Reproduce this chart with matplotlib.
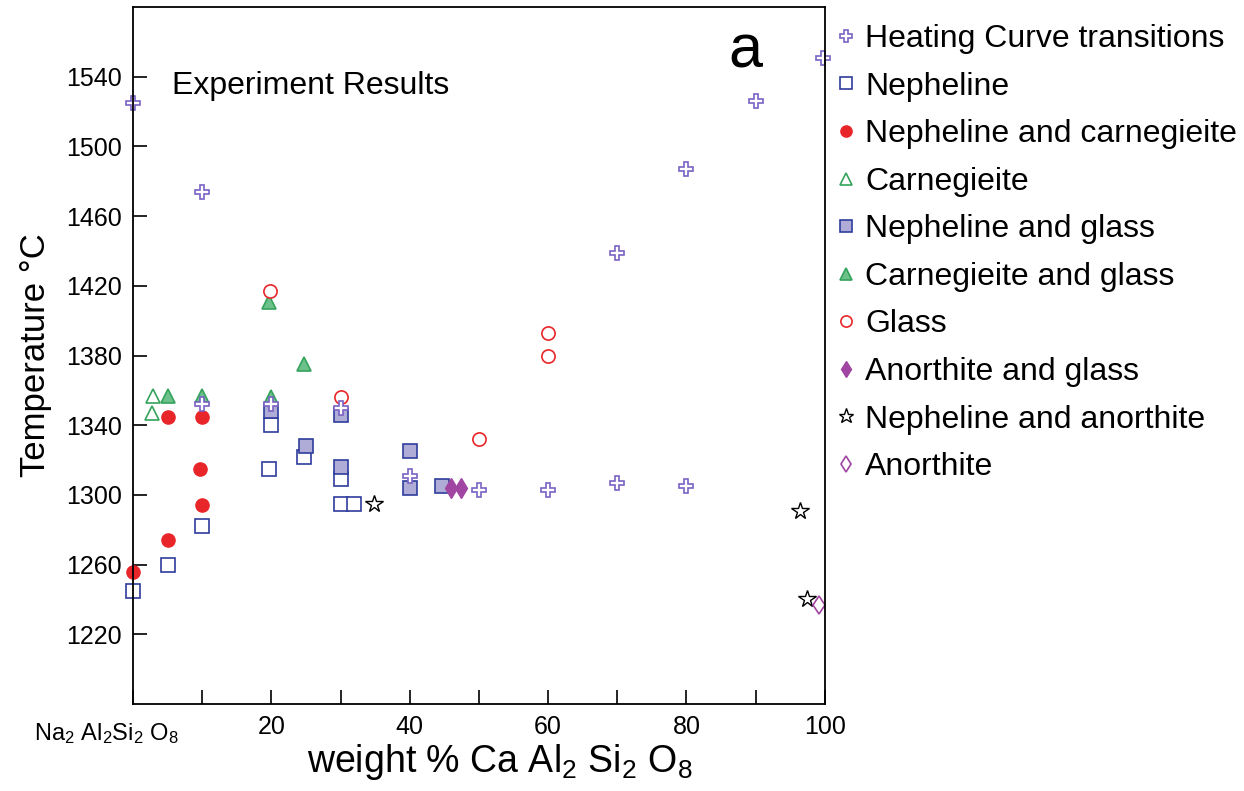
import numpy as np
import matplotlib
matplotlib.use('Agg')
import matplotlib.pyplot as plt

plt.rcParams['font.family'] = ['Liberation Sans', 'DejaVu Sans']
plt.rcParams['mathtext.fontset'] = 'custom'
plt.rcParams['mathtext.rm'] = 'Liberation Sans'
plt.rcParams['mathtext.it'] = 'Liberation Sans:italic'
plt.rcParams['mathtext.bf'] = 'Liberation Sans:bold'

# weight % CaAl2Si2O8 vs temperature (C)
heat_x = [0, 10, 10, 20, 30, 40, 50, 60, 70, 80, 70, 80, 90, 99.7]
heat_y = [1525, 1474, 1352, 1352, 1350, 1311, 1303, 1303, 1307, 1305, 1439, 1487, 1526, 1551]

neph_x = [0, 5, 10, 19.7, 20, 24.7, 30, 30, 32]
neph_y = [1245, 1260, 1282, 1315, 1340, 1322, 1309, 1295, 1295]

nc_x = [0, 5, 9.7, 10, 5, 10]
nc_y = [1256, 1274, 1315, 1294, 1345, 1345]

carn_x = [2.9, 2.8]
carn_y = [1357, 1347]

ng_x = [20, 25, 30, 30, 40, 40, 44.6]
ng_y = [1348, 1328, 1346, 1316, 1325, 1304, 1305]

cg_x = [5, 10, 19.7, 24.7, 20]
cg_y = [1357, 1357, 1411, 1375, 1356]

glass_x = [19.8, 30, 50, 60, 60]
glass_y = [1417, 1356, 1332, 1393, 1380]

ag_x = [46, 47.4]
ag_y = [1304, 1304]

na_x = [34.9, 96.4, 97.4]
na_y = [1295, 1291, 1240]

an_x = [99.1]
an_y = [1237]

fig = plt.figure(figsize=(12.44, 7.91), dpi=100)
ax = fig.add_axes([0.107, 0.110, 0.556, 0.881])

purple = '#7a62c4'
blue = '#2f3d9c'
red = '#e8262a'
green = '#34a35c'
lgreen = '#6cc08a'
mauve = '#a046a2'

kw = dict(ls='none', clip_on=False)
ax.plot(neph_x, neph_y, 's', ms=9.5, mfc='white', mec=blue, mew=1.2, label='Nepheline', **kw)
ax.plot(nc_x, nc_y, 'o', ms=9.5, mfc=red, mec=red, mew=1.0, label='Nepheline and carnegieite', **kw)
ax.plot(carn_x, carn_y, '^', ms=10.5, mfc='white', mec=green, mew=1.2, label='Carnegieite', **kw)
ax.plot(ng_x, ng_y, 's', ms=9.5, mfc='#b0acd8', mec=blue, mew=1.2, label='Nepheline and glass', **kw)
ax.plot(cg_x, cg_y, '^', ms=10.5, mfc=lgreen, mec=green, mew=1.2, label='Carnegieite and glass', **kw)
ax.plot(glass_x, glass_y, 'o', ms=9.5, mfc='white', mec=red, mew=1.2, label='Glass', **kw)
ax.plot(ag_x, ag_y, 'd', ms=10, mfc=mauve, mec=mauve, mew=1.0, label='Anorthite and glass', **kw)
ax.plot(na_x, na_y, '*', ms=13, mfc='white', mec='black', mew=1.0, label='Nepheline and anorthite', **kw)
ax.plot(an_x, an_y, 'd', ms=9.5, mfc='white', mec=mauve, mew=1.2, label='Anorthite', **kw)
ax.plot(heat_x, heat_y, 'P', ms=10, mfc='white', mec=purple, mew=1.2,
        label='Heating Curve transitions', **kw)

ax.set_xlim(0, 100)
ax.set_ylim(1180, 1580)

ax.set_xticks(np.arange(0, 101, 10))
ax.set_xticklabels(['', '', '20', '', '40', '', '60', '', '80', '', '100'])
ax.set_yticks(np.arange(1220, 1541, 40))
ax.tick_params(direction='in', length=10, width=1.2, labelsize=18, pad=8)
for s in ax.spines.values():
    s.set_linewidth(1.3)

ax.text(-3.8, -0.025, r'Na$_2$ Al$_2$Si$_2$ O$_8$', transform=ax.get_xaxis_transform(),
        ha='center', va='top', fontsize=17)

ax.set_xlabel(r'weight % Ca Al$_2$ Si$_2$ O$_8$', fontsize=27)
ax.xaxis.set_label_coords(0.53, -0.055)
ax.set_ylabel('Temperature °C', fontsize=25, labelpad=10)

ax.text(5.6, 1535, 'Experiment Results', fontsize=23, ha='left', va='center')
ax.text(86.0, 1554, 'a', fontsize=44, ha='left', va='center')

h, l = ax.get_legend_handles_labels()
order = [9, 0, 1, 2, 3, 4, 5, 6, 7, 8]
ax.legend([h[i] for i in order], [l[i] for i in order], loc='upper left',
          bbox_to_anchor=(0.998, 0.994), frameon=False, fontsize=23, markerscale=0.85,
          handlelength=0.6, handletextpad=0.3, labelspacing=0.55, borderaxespad=0.0)

fig.savefig('out.png', dpi=100)
